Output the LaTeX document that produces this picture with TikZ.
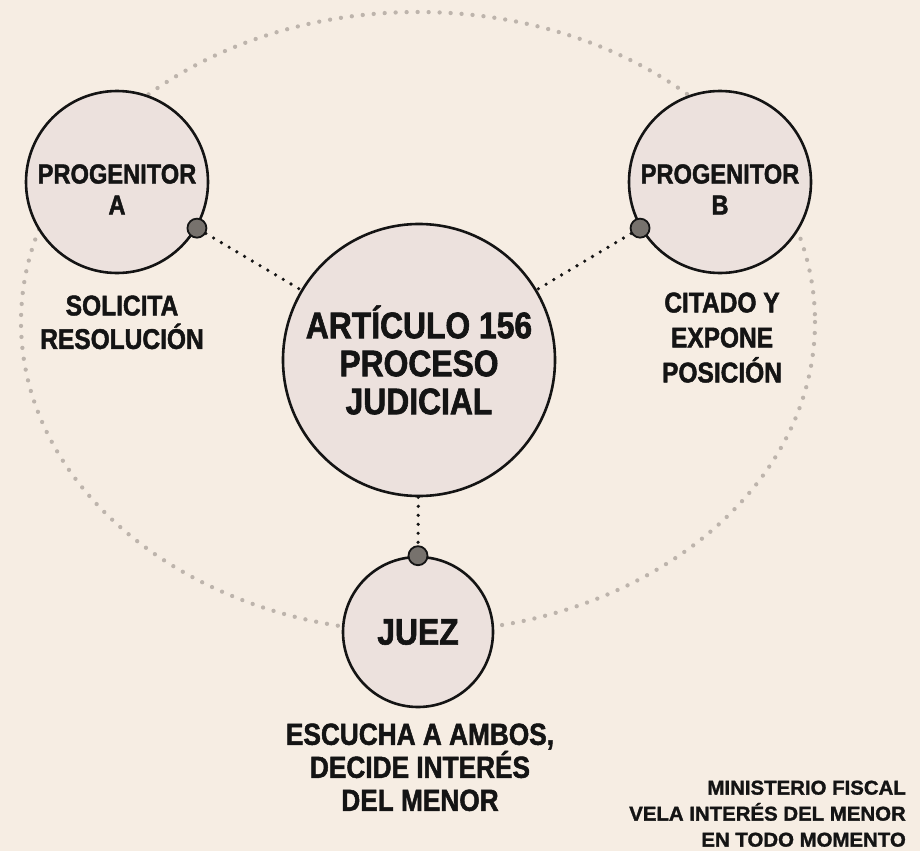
\documentclass[tikz,border=0pt]{standalone}
\usepackage{fontspec}
\setmainfont{Liberation Sans}[FakeStretch=0.86, BoldFeatures={FakeBold=1.6}]
\newfontfamily\widefont{Liberation Sans}[FakeStretch=1.02, BoldFeatures={FakeBold=1.4}]
\usetikzlibrary{positioning}

\definecolor{paper}{HTML}{F6EDE3}
\definecolor{disc}{HTML}{ECE1DD}
\definecolor{orbit}{HTML}{BDB4AC}
\definecolor{knobgray}{HTML}{77726D}
\definecolor{ink}{HTML}{141414}

% pushes a two-line role text a little below the centre
\newcommand{\dropline}{\rule{0pt}{34pt}}

\begin{document}
\begin{tikzpicture}[
                    x=1pt,
                    y=-1pt,
                    font=\bfseries,
                    text=ink,
                    party/.style={circle, draw=ink, line width=2.6pt, fill=disc,
                                  inner sep=0pt, align=center},
                    role/.style={party, minimum size=182pt,
                                 font=\fontsize{27.5}{31}\selectfont\bfseries},
                    hub/.style={party, minimum size=272pt,
                                font=\fontsize{37}{38}\selectfont\bfseries},
                    judge/.style={party, minimum size=150pt,
                                  font=\fontsize{37}{40}\selectfont\bfseries},
                    knob/.style={circle, draw=ink, line width=1.8pt, fill=knobgray,
                                 minimum size=19pt, inner sep=0pt},
                    link/.style={ink, line width=3.6pt, line cap=round,
                                 dash pattern=on 0pt off 9pt},
                    note/.style={inner sep=0pt, align=center,
                                 font=\fontsize{28.5}{33.5}\selectfont\bfseries},
                    node distance=20pt
                ]
                % page
                \fill[paper] (0,0) rectangle (920,851);
                \useasboundingbox (0,0) rectangle (920,851);

                % orbit behind the parties
                \draw[orbit, line width=4.3pt, line cap=round,
                      dash pattern=on 0pt off 11pt] (418,322) ellipse [x radius=397, y radius=310];

                \node[hub] (art) at (419,360) {ART\'ICULO 156\\PROCESO\\JUDICIAL};
                \node[role] (prog-a) at (117,182) {\dropline PROGENITOR\\A};
                \node[role] (prog-b) at (720,182) {\dropline PROGENITOR\\B};
                \node[judge] (juez) at (418,632) {JUEZ};

                \node[knob] (knob-a) at (prog-a.-30) {};
                \node[knob] (knob-b) at (prog-b.-150) {};
                \node[knob] (knob-j) at (juez.90) {};

                \path
                (knob-a) edge[link] (art)
                (knob-b) edge[link] (art)
                (art) edge[link] (knob-j)
                ;

                \node[note] (lbl-a) [below=21pt of prog-a, xshift=5pt] {SOLICITA\\RESOLUCI\'ON};
                \node[note, font=\fontsize{28.5}{35}\selectfont\bfseries] (lbl-b) [below=18pt of prog-b, xshift=2pt]
                    {CITADO Y\\EXPONE\\POSICI\'ON};
                \node[note, font=\fontsize{30.5}{33}\selectfont\bfseries] (lbl-j) [below=15pt of juez, xshift=2pt]
                    {ESCUCHA A AMBOS,\\DECIDE INTER\'ES\\DEL MENOR};
                \node[note, align=right, anchor=south east,
                      font=\widefont\fontsize{20}{26}\selectfont\bfseries] (fiscal) at (906,847)
                    {MINISTERIO FISCAL\\VELA INTER\'ES DEL MENOR\\EN TODO MOMENTO};
            \end{tikzpicture}
\end{document}
